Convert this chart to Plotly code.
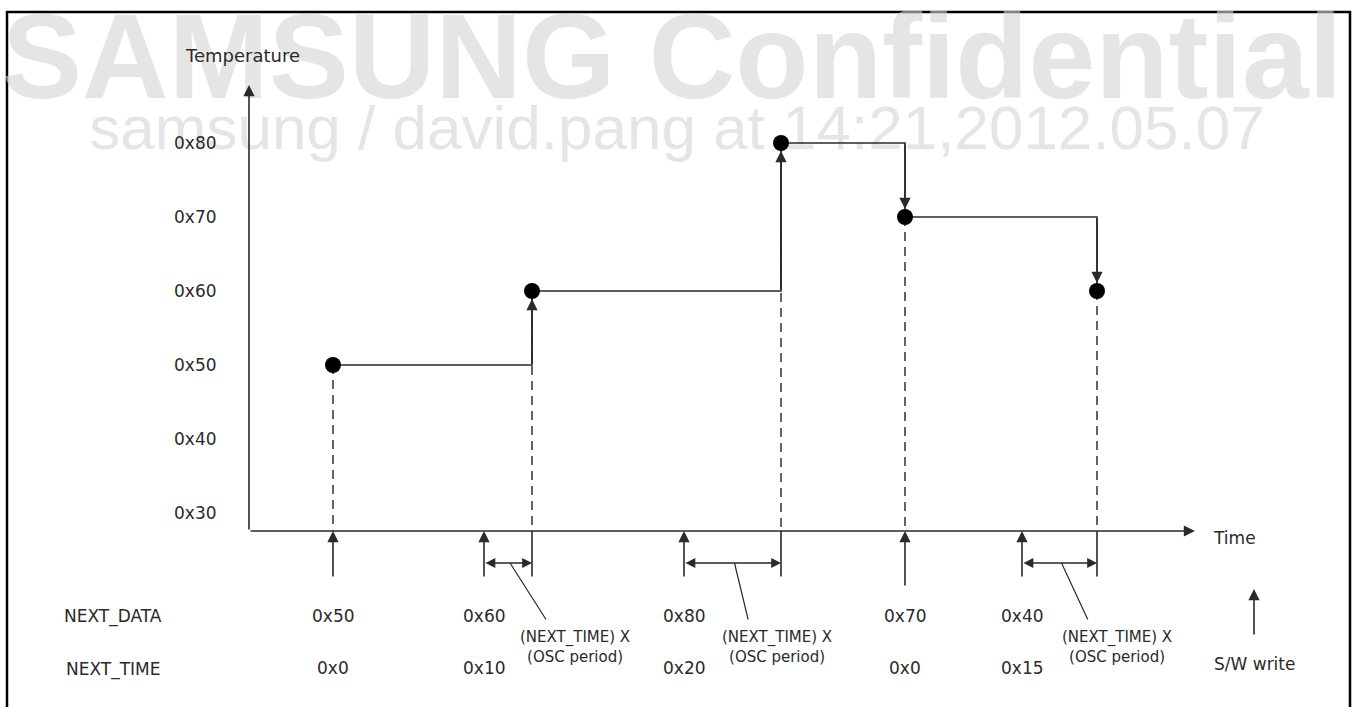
import plotly.graph_objects as go

W, H = 1357, 707

# Temperature axis, labelled with the register codes
TEMP_TICKS = [0x30, 0x40, 0x50, 0x60, 0x70, 0x80]
TEMP_TICK_TEXT = ["0x30", "0x40", "0x50", "0x60", "0x70", "0x80"]

# S/W write events
WRITE_TIME = [84, 235, 435, 656, 773]          # when each S/W write happens
APPLY_TIME = [84, 283, 532, 656, 848]          # when the written data takes effect
TEMP_LEVEL = [0x50, 0x60, 0x80, 0x70, 0x60]    # temperature level after each update
NEXT_DATA = ["0x50", "0x60", "0x80", "0x70", "0x40"]
NEXT_TIME = ["0x0", "0x10", "0x20", "0x0", "0x15"]

# ---- canvas / scale setup ----
X_RANGE = [-249, W - 249]
PX_PER_UNIT = 370 / (0x80 - 0x30)
Y_RANGE = [0x80 - (H - 143) / PX_PER_UNIT, 0x80 + 143 / PX_PER_UNIT]


def X(px):
    return X_RANGE[0] + px * (X_RANGE[1] - X_RANGE[0]) / W


def Y(py):
    return Y_RANGE[1] - py * (Y_RANGE[1] - Y_RANGE[0]) / H


AXIS_T0 = X(249)          # time origin (vertical axis)
AXIS_FLOOR = Y(531)       # level of the time axis
AXIS_TOP = Y(85)
AXIS_END = X(1195)

FONT = "DejaVu Sans"
INK = "#2a2a2a"
WM = "rgba(212,212,212,0.6)"

fig = go.Figure()

# watermark
fig.add_trace(go.Scatter(
    x=[X(672)], y=[Y(68)], mode="text", text=["SAMSUNG Confidential"],
    textfont=dict(family="Liberation Sans", size=120, color=WM, weight="bold"),
    hoverinfo="skip", showlegend=False))
fig.add_trace(go.Scatter(
    x=[X(677)], y=[Y(133)], mode="text",
    text=["samsung / david.pang at 14:21,2012.05.07"],
    textfont=dict(family="Liberation Sans", size=62, color=WM),
    hoverinfo="skip", showlegend=False))

# dashed drop lines from each level down to the time axis
dx, dy = [], []
for t, v in zip(APPLY_TIME, TEMP_LEVEL):
    dx += [t, t, None]
    dy += [v, AXIS_FLOOR, None]
fig.add_trace(go.Scatter(
    x=dx, y=dy, mode="lines",
    line=dict(color="#111111", width=1.3, dash="9px,6px"),
    hoverinfo="skip", showlegend=False))

# temperature step line
fig.add_trace(go.Scatter(
    x=APPLY_TIME, y=TEMP_LEVEL, mode="lines",
    line=dict(color=INK, width=1.6, shape="hv"),
    hoverinfo="skip", showlegend=False))

# update points
fig.add_trace(go.Scatter(
    x=APPLY_TIME, y=TEMP_LEVEL, mode="markers",
    marker=dict(color="black", size=16),
    hoverinfo="skip", showlegend=False))

ann = []


def arrow(x, y, ax, ay, head=2, start=0, ref_data=False, width=1.6, standoff=0):
    d = dict(x=x, y=y, xref="x", yref="y", text="", showarrow=True,
             ax=ax, ay=ay, arrowhead=head, arrowsize=1.4, arrowwidth=width,
             arrowcolor=INK, standoff=standoff)
    if start:
        d.update(arrowside="end+start", startarrowhead=start, startarrowsize=1.4)
    if ref_data:
        d.update(axref="x", ayref="y")
    ann.append(d)


def label(x, y, text, size=17, xanchor="center", color=INK):
    ann.append(dict(x=x, y=y, xref="x", yref="y", text=text, showarrow=False,
                    xanchor=xanchor, yanchor="middle",
                    font=dict(family=FONT, size=size, color=color)))


# axes
arrow(AXIS_T0, AXIS_TOP, AXIS_T0, AXIS_FLOOR, ref_data=True)
arrow(AXIS_END, AXIS_FLOOR, AXIS_T0, AXIS_FLOOR, ref_data=True)
label(X(242), Y(55), "Temperature", size=18)
label(X(1211), Y(538), "Time", xanchor="left")
for v, txt in zip(TEMP_TICKS, TEMP_TICK_TEXT):
    label(X(195), v, txt)

# arrowheads on the vertical transitions of the step line
for i in range(1, len(APPLY_TIME)):
    arrow(APPLY_TIME[i], TEMP_LEVEL[i], APPLY_TIME[i], TEMP_LEVEL[i - 1],
          ref_data=True, standoff=8)

# S/W write arrows below the time axis
for i, t in enumerate(WRITE_TIME):
    arrow(t, AXIS_FLOOR, 0, 56 if t == APPLY_TIME[i] and i > 0 else 47)

# delayed updates: marker line, span arrow, leader and note
NOTE_SHIFT = [67, 44, 57]
k = 0
for w, a in zip(WRITE_TIME, APPLY_TIME):
    if a == w:
        continue
    ann.append(dict(x=a, y=AXIS_FLOOR, xref="x", yref="y", text="", showarrow=True,
                    ax=0, ay=47, arrowhead=0, arrowwidth=1.6, arrowcolor=INK))
    arrow(a, Y(563), w, Y(563), head=2, start=2, ref_data=True, width=1.4)
    mid = (w + a) / 2
    ann.append(dict(x=mid + 2, y=Y(563), xref="x", yref="y", text="", showarrow=True,
                    axref="x", ayref="y", ax=mid + NOTE_SHIFT[k] - 28, ay=Y(621),
                    arrowhead=0, arrowwidth=1.2, arrowcolor=INK))
    label(mid + NOTE_SHIFT[k], Y(647), "(NEXT_TIME) X<br>(OSC period)", size=15)
    k += 1

# register rows
label(X(113), Y(616), "NEXT_DATA")
label(X(113), Y(669), "NEXT_TIME")
for t, d_txt, n_txt in zip(WRITE_TIME, NEXT_DATA, NEXT_TIME):
    label(t, Y(616), d_txt)
    label(t, Y(668), n_txt)

# legend
arrow(X(1254), Y(589), 0, 47)
label(X(1254), Y(664), "S/W write")

fig.update_layout(
    width=W, height=H,
    margin=dict(l=0, r=0, t=0, b=0),
    paper_bgcolor="white", plot_bgcolor="white",
    xaxis=dict(range=X_RANGE, visible=False, fixedrange=True),
    yaxis=dict(range=Y_RANGE, visible=False, fixedrange=True),
    showlegend=False,
    annotations=ann,
    shapes=[dict(type="path", xref="paper", yref="paper", layer="below",
                 path=f"M {7/W} 0 L {7/W} {1-12/H} L {1350/W} {1-12/H} L {1350/W} 0",
                 line=dict(color="black", width=2.5))],
)

fig.write_html("out.html")
